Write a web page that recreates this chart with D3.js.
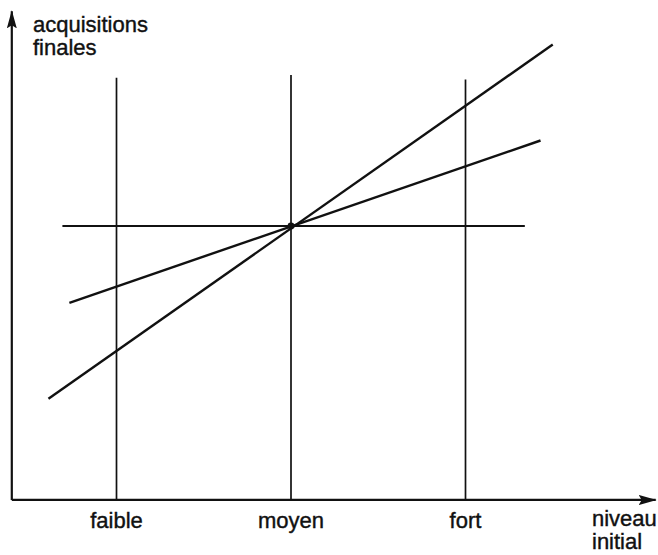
<!DOCTYPE html>
<script src="https://cdn.jsdelivr.net/npm/d3@7"></script>
<html>
    <body style="margin:0;background:#fff">
        <div id="chart-div"></div>
        <script>
            // categories on the horizontal axis (position -1, 0, 1)
            const niveaux = ["faible", "moyen", "fort"];
            const niveauPos = [-1, 0, 1];

            // top of the vertical guide line for each category
            const guideTop = [0.85, 0.865, 0.84];

            // horizontal reference (average) line
            const horizX = [-1.31, 1.34];
            const horizY = [0, 0];

            // steep line
            const steepX = [-1.39, 1.50];
            const steepY = [-0.99, 1.04];

            // shallow line
            const shallowX = [-1.27, 1.43];
            const shallowY = [-0.44, 0.49];

            // axis extents (in data units)
            const axisX = [-1.6, 2.09];
            const axisY = [-1.57, 1.23];

            const width = 658, height = 555;

            const svg = d3.select("#chart-div")
                .append("svg")
                .attr("width", width)
                .attr("height", height)
                .style("font-family", "'Liberation Sans', Arial, sans-serif");

            const x = d3.scaleLinear().domain([-1, 1]).range([116.5, 465.5]);
            const y = d3.scaleLinear().domain([-1, 1]).range([400.5, 51.5]);

            const ink = "#111";
            const fontSize = 22;

            // arrow marker
            svg.append("defs").append("marker")
                .attr("id", "arrow")
                .attr("viewBox", "0 0 18 10")
                .attr("refX", 17)
                .attr("refY", 5)
                .attr("markerWidth", 18)
                .attr("markerHeight", 10)
                .attr("markerUnits", "userSpaceOnUse")
                .attr("orient", "auto")
                .append("path")
                .attr("d", "M0,0 L18,5 L0,10 L3,5 Z")
                .attr("fill", ink);

            // axes
            svg.append("line")
                .attr("x1", x(axisX[0])).attr("y1", y(axisY[0]))
                .attr("x2", x(axisX[1])).attr("y2", y(axisY[0]))
                .attr("stroke", ink).attr("stroke-width", 2.2)
                .attr("marker-end", "url(#arrow)");

            svg.append("line")
                .attr("x1", x(axisX[0])).attr("y1", y(axisY[0]))
                .attr("x2", x(axisX[0])).attr("y2", y(axisY[1]))
                .attr("stroke", ink).attr("stroke-width", 2.2)
                .attr("marker-end", "url(#arrow)");

            // vertical guides
            svg.selectAll("line.guide")
                .data(niveauPos)
                .enter()
                .append("line")
                .attr("class", "guide")
                .attr("x1", d => x(d)).attr("x2", d => x(d))
                .attr("y1", y(axisY[0]))
                .attr("y2", (d, i) => y(guideTop[i]))
                .attr("stroke", ink).attr("stroke-width", 1.7);

            // category labels
            svg.selectAll("text.cat")
                .data(niveaux)
                .enter()
                .append("text")
                .attr("class", "cat")
                .attr("x", (d, i) => x(niveauPos[i]))
                .attr("y", 528)
                .attr("text-anchor", "middle")
                .attr("font-size", fontSize)
                .attr("fill", ink)
                .attr("stroke", ink).attr("stroke-width", 0.4)
                .text(d => d);

            // lines
            const line = d3.line().x(d => x(d[0])).y(d => y(d[1]));
            const series = [
                { xs: horizX, ys: horizY, w: 2 },
                { xs: shallowX, ys: shallowY, w: 2.4 },
                { xs: steepX, ys: steepY, w: 2.4 }
            ];
            svg.selectAll("path.serie")
                .data(series)
                .enter()
                .append("path")
                .attr("class", "serie")
                .attr("d", s => line(d3.zip(s.xs, s.ys)))
                .attr("fill", "none")
                .attr("stroke", ink)
                .attr("stroke-width", s => s.w);

            // intersection point
            svg.append("circle")
                .attr("cx", x(0)).attr("cy", y(0))
                .attr("r", 3.4)
                .attr("fill", ink);

            // axis titles
            const yTitle = svg.append("text")
                .attr("font-size", fontSize).attr("fill", ink)
                .attr("stroke", ink).attr("stroke-width", 0.4);
            yTitle.append("tspan").attr("x", 33).attr("y", 32).text("acquisitions");
            yTitle.append("tspan").attr("x", 33).attr("y", 55).text("finales");

            const xTitle = svg.append("text")
                .attr("font-size", fontSize).attr("fill", ink)
                .attr("stroke", ink).attr("stroke-width", 0.4);
            xTitle.append("tspan").attr("x", 592).attr("y", 526).text("niveau");
            xTitle.append("tspan").attr("x", 592).attr("y", 549).text("initial");
        </script>
    </body>
</html>
